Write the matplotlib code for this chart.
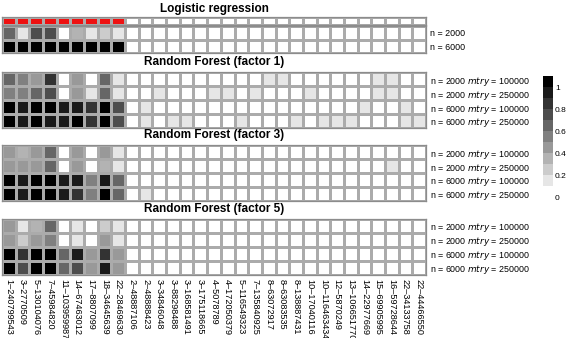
import numpy as np
import matplotlib
matplotlib.use('Agg')
import matplotlib.pyplot as plt
from matplotlib.colors import ListedColormap, BoundaryNorm

# ---------------- data ----------------
snp_labels = ["1–240799543", "3–2770509", "5–130104076", "7–45984820", "11–103959987",
              "14–67463012", "17–8807099", "18–34645639", "22–28469630",
              "2–48887106", "2–48888423", "3–34846048", "3–88298488", "3–168581491",
              "3–175118665", "4–5078789", "4–172050379", "5–116549323", "7–135840925",
              "8–63072917", "8–63083535", "8–138887431", "10–17040116", "10–116463434",
              "12–5870249", "13–106651770", "14–22977669", "15–69905995", "16–59728644",
              "22–34133758", "22–44466550"]
causal = [1] * 9 + [0] * 22

logit_rows = ["n = 2000", "n = 6000"]
logit_true = [[0.62, 0.1, 0.75, 0.72, 0.0, 0.35, 0.1, 0.25, 0.12],
              [1.0, 1.0, 1.0, 1.0, 1.0, 1.0, 1.0, 1.0, 1.0]]
logit_false = [[0] * 22,
               [0] * 22]

rf_rows = ["n = 2000 $\\it{mtry}$ = 100000", "n = 2000 $\\it{mtry}$ = 250000",
           "n = 6000 $\\it{mtry}$ = 100000", "n = 6000 $\\it{mtry}$ = 250000"]

rf1_true = [[0.6, 0.55, 0.45, 0.8, 0.0, 0.45, 0.0, 0.65, 0.12],
            [0.55, 0.55, 0.6, 0.75, 0.0, 0.4, 0.1, 0.6, 0.1],
            [1.0, 0.95, 1.0, 1.0, 0.95, 0.9, 0.8, 1.0, 0.75],
            [1.0, 0.92, 1.0, 0.95, 0.95, 1.0, 0.8, 1.0, 0.75]]
rf1_false = [[0, 0, 0, 0, 0, 0, 0, 0, 0, 0, 0.1, 0.1, 0, 0, 0, 0, 0, 0, 0.1, 0.1, 0, 0],
             [0, 0, 0.1, 0, 0, 0, 0.1, 0.1, 0, 0.1, 0, 0, 0, 0.1, 0, 0, 0, 0, 0.1, 0.1, 0, 0],
             [0, 0.1, 0, 0, 0, 0, 0, 0, 0, 0, 0, 0, 0, 0, 0, 0, 0, 0.1, 0, 0, 0.1, 0],
             [0, 0.1, 0, 0.1, 0.1, 0, 0, 0, 0.1, 0, 0, 0, 0.1, 0, 0.1, 0.1, 0.1, 0, 0, 0, 0.1, 0.1]]

rf3_true = [[0.45, 0.35, 0.4, 0.6, 0.0, 0.4, 0.0, 0.4, 0.12],
            [0.45, 0.4, 0.45, 0.6, 0.0, 0.4, 0.0, 0.35, 0.1],
            [1.0, 0.95, 1.0, 1.0, 0.9, 0.9, 0.55, 0.95, 0.6],
            [1.0, 0.95, 1.0, 1.0, 0.9, 0.8, 0.55, 1.0, 0.6]]
rf3_false = [[0] * 22,
             [0] * 19 + [0.1, 0, 0],
             [0] * 22,
             [0, 0.1] + [0] * 20]

rf5_true = [[0.45, 0.1, 0.35, 0.6, 0.0, 0.12, 0.0, 0.28, 0.12],
            [0.45, 0.2, 0.45, 0.55, 0.0, 0.12, 0.0, 0.4, 0.1],
            [1.0, 0.8, 1.0, 1.0, 0.65, 0.9, 0.45, 0.85, 0.45],
            [1.0, 0.75, 1.0, 1.0, 0.6, 0.75, 0.45, 0.95, 0.45]]
rf5_false = [[0] * 22, [0] * 22, [0] * 22, [0] * 22]

cbar_ticks = [0, 0.2, 0.4, 0.6, 0.8, 1]
cbar_ticklabels = ["0", "0.2", "0.4", "0.6", "0.8", "1"]

# ---------------- style ----------------
plt.rcParams['font.family'] = ['Liberation Sans', 'DejaVu Sans']
W, H = 567, 338
fig = plt.figure(figsize=(W / 100, H / 100), dpi=100)

bounds = np.round(np.linspace(0, 1.1, 12), 6)
grays = [str(round(1 - k / 10, 3)) for k in range(11)]
cmap = ListedColormap(grays)
norm = BoundaryNorm(bounds, cmap.N)

GRID = '#ababab'
X0, X1 = 2, 426


def ax_px(x0, y0, x1, y1):
    return fig.add_axes([x0 / W, 1 - y1 / H, (x1 - x0) / W, (y1 - y0) / H])


def panel(y0, y1, true_vals, false_vals, row_labels, title=None, title_y=None,
          show_xticks=False):
    data = np.hstack([np.array(true_vals, float), np.array(false_vals, float)])
    ax = ax_px(X0, y0, X1, y1)
    nr, nc = data.shape
    ax.pcolormesh(np.arange(nc + 1), np.arange(nr + 1), data, cmap=cmap, norm=norm,
                  edgecolors=GRID, linewidth=0.9)
    ax.set_xlim(0, nc)
    ax.set_ylim(nr, 0)
    for s in ax.spines.values():
        s.set_color('#8c8c8c')
        s.set_linewidth(0.9)
    ax.tick_params(left=False, bottom=False, labelleft=False, labelbottom=False,
                   right=False, labelright=True, length=0, pad=3)
    ax.yaxis.set_label_position('right')
    ax.set_yticks(np.arange(nr) + 0.5)
    ax.set_yticklabels(row_labels, fontsize=6.4)
    if show_xticks:
        ax.set_xticks(np.arange(nc) + 0.5)
        ax.set_xticklabels(snp_labels, rotation=-90, fontsize=6.6, va='top', ha='center')
        ax.tick_params(labelbottom=True, pad=3)
    if title:
        fig.text((X0 + X1) / 2 / W, 1 - title_y / H, title, ha='center', va='center',
                 fontsize=8.5, fontweight='bold')
    return ax


# causal-marker row
axm = ax_px(X0, 17, X1, 25)
axm.pcolormesh(np.arange(len(causal) + 1), [0, 1], np.array([causal], float),
               cmap=ListedColormap(['white', '#ee1111']), vmin=0, vmax=1,
               edgecolors=GRID, linewidth=0.9)
axm.set_xlim(0, len(causal))
axm.set_ylim(1, 0)
axm.set_xticks([]); axm.set_yticks([])
for s in axm.spines.values():
    s.set_color('#8c8c8c'); s.set_linewidth(0.9)

panel(26, 53, logit_true, logit_false, logit_rows, "Logistic regression", 9)
panel(72, 128, rf1_true, rf1_false, rf_rows, "Random Forest (factor 1)", 62)
panel(145, 201, rf3_true, rf3_false, rf_rows, "Random Forest (factor 3)", 135)
panel(219, 275, rf5_true, rf5_false, rf_rows, "Random Forest (factor 5)", 209,
      show_xticks=True)

# colour key
axc = ax_px(543, 76, 553, 197)
vals = (bounds[:-1] + bounds[1:]) / 2
axc.pcolormesh([0, 1], bounds, vals.reshape(-1, 1), cmap=cmap, norm=norm)
axc.set_xlim(0, 1)
axc.set_ylim(0, 1.1)
for s in axc.spines.values():
    s.set_visible(False)
axc.set_xticks([])
axc.yaxis.tick_right()
axc.set_yticks(cbar_ticks)
axc.set_yticklabels(cbar_ticklabels, fontsize=6.0)
axc.tick_params(length=0, pad=1.5)

fig.savefig('out.png', dpi=100)
